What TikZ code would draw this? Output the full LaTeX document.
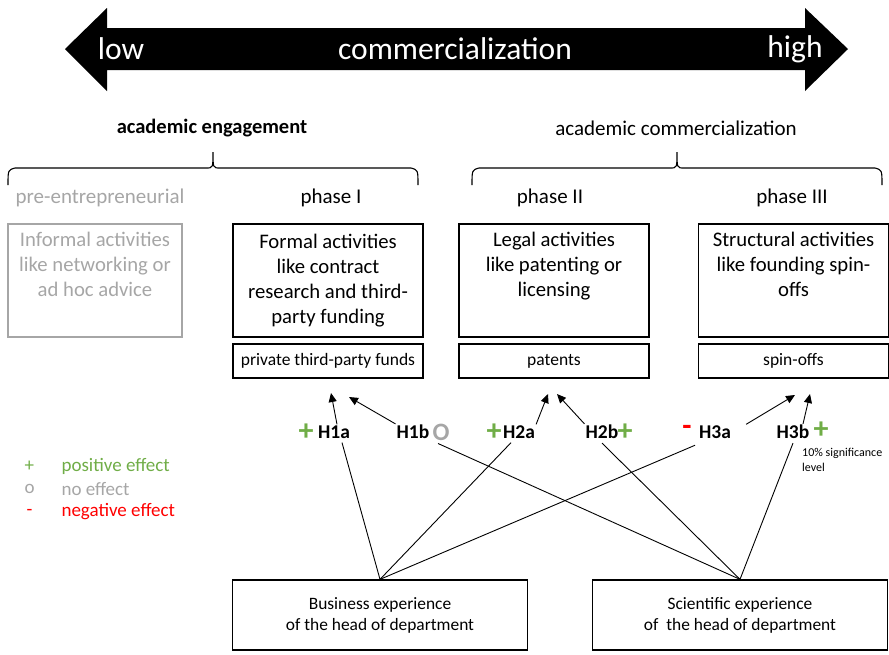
\documentclass[tikz,border=0pt]{standalone}
\usepackage{fontspec}
\setmainfont{Carlito}
\usetikzlibrary{arrows.meta,calc}
\definecolor{effgreen}{HTML}{70AD47}
\definecolor{effgray}{HTML}{A6A6A6}
\definecolor{effred}{HTML}{FF0000}

\begin{document}
\begin{tikzpicture}[x=1pt, y=-1pt,
  actbox/.style={draw, line width=1.3pt, minimum width=190pt, minimum height=113pt, align=center, inner sep=0pt, font=\fontsize{20.7}{25}\selectfont},
  outbox/.style={draw, line width=1.3pt, minimum width=190pt, minimum height=34pt, inner sep=0pt, font=\fontsize{17.5}{20}\selectfont},
  expbox/.style={draw, line width=1.3pt, minimum width=295pt, minimum height=70pt, align=center, inner sep=0pt, font=\fontsize{17.4}{21}\selectfont},
  phaselbl/.style={font=\fontsize{21}{24}\selectfont},
  hyp/.style={font=\fontsize{19.5}{22}\selectfont\bfseries, inner sep=1pt},
  sign/.style={font=\fontsize{30}{30}\selectfont\bfseries, inner sep=0pt},
  link/.style={line width=0.9pt},
  effect/.style={-{Triangle[length=9pt, width=8pt]}, line width=0.9pt},
  legend/.style={font=\fontsize{19}{22}\selectfont, anchor=west}
]
\useasboundingbox (0,0) rectangle (889,654);

% === TOP: commercialization scale ===
\fill (65,49) -- (107,8) -- (107,28) -- (805,28) -- (805,8) -- (848,49)
  -- (805,91) -- (805,70) -- (107,70) -- (107,91) -- cycle;
\node[white, font=\fontsize{31.5}{34}\selectfont] (low) at (121,49) {low};
\node[white, font=\fontsize{31.5}{34}\selectfont] (comm) at (455,49) {commercialization};
\node[white, font=\fontsize{31.5}{34}\selectfont] (high) at (795,49) {high};

% === braces ===
\node[font=\fontsize{20.5}{24}\selectfont\bfseries] (engage) at (212,128) {academic engagement};
\node[font=\fontsize{21}{24}\selectfont] (acomm) at (676,128) {academic commercialization};
\foreach \xa/\xb in {8/418, 472/882}
  \draw[line width=1.1pt] (\xa,185) .. controls (\xa,170) .. (\xa+7,168)
    -- ({(\xa+\xb)/2-7},168) .. controls ({(\xa+\xb)/2},168) .. ({(\xa+\xb)/2},152)
    .. controls ({(\xa+\xb)/2},168) .. ({(\xa+\xb)/2+7},168)
    -- (\xb-7,168) .. controls (\xb,170) .. (\xb,185);

% === phases ===
\node[phaselbl, effgray] (pre) at (100,198) {pre-entrepreneurial};
\node[phaselbl] (ph1) at (331,198) {phase I};
\node[phaselbl] (ph2) at (550,198) {phase II};
\node[phaselbl] (ph3) at (792,198) {phase III};

\node[actbox, draw=effgray, text=effgray, minimum width=174pt] (informal) at (95,280.5)
  {Informal activities\\like networking or\\ad hoc advice\\\strut};
\node[actbox] (formal) at (328,280.5)
  {Formal activities\\like contract\\research and third-\\party funding};
\node[actbox] (legal) at (554,280.5)
  {Legal activities\\like patenting or\\licensing\\\strut};
\node[actbox] (struct) at (793.5,280.5)
  {Structural activities\\like founding spin-\\offs\\\strut};

\node[outbox] (funds) at (328,361) {private third-party funds};
\node[outbox] (patents) at (554,361) {patents};
\node[outbox] (spinoffs) at (793.5,361) {spin-offs};

% === hypotheses ===
\node[sign, effgreen] (p1a) at (306,432) {+};
\node[hyp] (h1a) at (334,432) {H1a};
\node[hyp] (h1b) at (413,432) {H1b};
\node[sign, effgray, font=\fontsize{25}{25}\selectfont\bfseries] (o1b) at (441,432) {O};
\node[sign, effgreen] (p2a) at (494,432) {+};
\node[hyp] (h2a) at (519,432) {H2a};
\node[hyp] (h2b) at (602,432) {H2b};
\node[sign, effgreen] (p2b) at (625,432) {+};
\node[sign, effred] (m3a) at (687,430) {-};
\node[hyp] (h3a) at (715,432) {H3a};
\node[hyp] (h3b) at (793,432) {H3b};
\node[sign, effgreen] (p3b) at (821,430) {+};
\node[anchor=north west, align=left, font=\fontsize{12}{14.5}\selectfont, inner sep=0pt] (sig) at (802,448) {10\% significance\\level};

\coordinate (t1a) at (331,393);
\coordinate (t1b) at (349,397);
\coordinate (t2a) at (548,394);
\coordinate (t2b) at (557,394);
\coordinate (t3a) at (795,395);
\coordinate (t3b) at (810,394);

\draw[effect] ($(h1a.north)+(3,0)$) -- (t1a);
\draw[effect] (h1b.north west) -- (t1b);
\draw[effect] (h2a.north east) -- (t2a);
\draw[effect] (h2b.north west) -- (t2b);
\draw[effect] ($(h3a.north east)+(14,0)$) -- (t3a);
\draw[effect] ($(h3b.north)+(10,0)$) -- (t3b);

% === experience ===
\node[expbox] (biz) at (380,615) {Business experience\\of the head of department};
\node[expbox] (sci) at (740,615) {Scientific experience\\of \ the head of department};

\draw[link] ($(h1a.south)+(8,3)$) -- (biz.north);
\draw[link] ($(h2a.south)+(-8,3)$) -- (biz.north);
\draw[link] ($(m3a.south)+(8,10)$) -- (biz.north);
\draw[link] ($(o1b.south)+(-3,3)$) -- (sci.north);
\draw[link] ($(h2b.south)+(0,3)$) -- (sci.north);
\draw[link] ($(h3b.south)+(0,3)$) -- (sci.north);

% === legend ===
\node[legend, effgreen] (lp) at (21,466) {+};
\node[legend, effgreen] (lpt) at (58,466) {positive effect};
\node[legend, effgray] (lo) at (21,489) {o};
\node[legend, effgray] (lot) at (58,489) {no effect};
\node[legend, effred] (lm) at (23,512) {-};
\node[legend, effred] (lmt) at (58,512) {negative effect};

\end{tikzpicture}
\end{document}
